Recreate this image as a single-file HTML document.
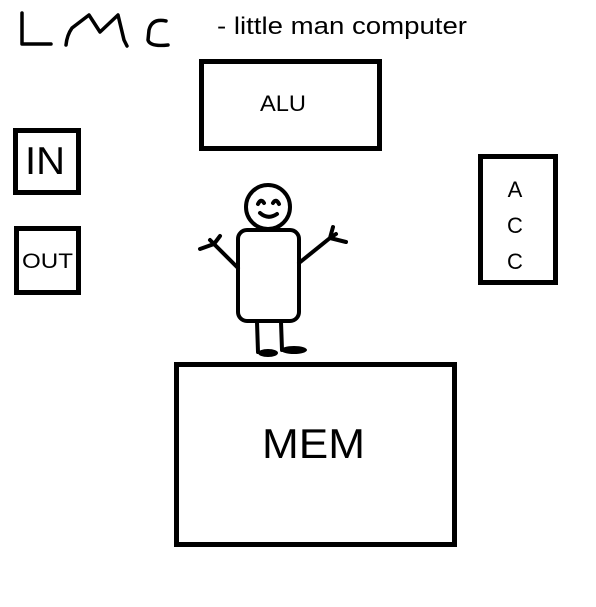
<!DOCTYPE html>
<html><head><style>
html,body{margin:0;padding:0;background:#fff;width:596px;height:607px;overflow:hidden}
svg text{font-family:"Liberation Sans",sans-serif;fill:#000}
</style></head><body>
<svg width="596" height="607" viewBox="0 0 596 607" xmlns="http://www.w3.org/2000/svg">
<g fill="none" stroke="#000" stroke-width="3.5" stroke-linecap="round" stroke-linejoin="round">
<path d="M22 13 L22 44 L51 44"/>
<path d="M66 45 Q67 35 72 28 L89 15 L100 32 L118 15 L124 40 L127 46"/>
<path d="M166 21 Q152 18 149 30 L148 40 Q150 47 168 45"/>
</g>
<text x="217" y="34" font-size="24" textLength="250" lengthAdjust="spacingAndGlyphs">- little man computer</text>
<g fill="none" stroke="#000" stroke-width="5">
<rect x="201.5" y="61.5" width="178" height="87"/>
<rect x="15.5" y="130.5" width="63" height="62"/>
<rect x="16.5" y="228.5" width="62" height="64"/>
<rect x="480.5" y="156.5" width="75" height="126"/>
<rect x="176.5" y="364.5" width="278" height="180"/>
</g>
<text x="260" y="111" font-size="22" textLength="46" lengthAdjust="spacingAndGlyphs">ALU</text>
<text x="25" y="174" font-size="39" textLength="40" lengthAdjust="spacingAndGlyphs">IN</text>
<text x="22" y="268" font-size="21" textLength="51" lengthAdjust="spacingAndGlyphs">OUT</text>
<text x="515" y="197" font-size="22" text-anchor="middle">A</text>
<text x="515" y="233" font-size="22" text-anchor="middle">C</text>
<text x="515" y="269" font-size="22" text-anchor="middle">C</text>
<text x="262" y="458" font-size="42" textLength="103" lengthAdjust="spacingAndGlyphs">MEM</text>
<g fill="none" stroke="#000" stroke-width="4" stroke-linecap="round" stroke-linejoin="round">
<circle cx="268" cy="207" r="22"/>
<path d="M258 204 Q261 198 264 203 M273 203 Q276 198 279 204"/>
<path d="M260 213 Q268 220 277 214"/>
<rect x="238" y="230" width="61" height="91" rx="9"/>
<path d="M238 268 L214 244 M200 249 L214 244 L220 236 M214 244 L210 240"/>
<path d="M299 263 L330 238 M330 238 L333 227 M330 238 L346 242 M330 238 L336 234"/>
<path d="M257 322 L258 352 M281 322 L282 350"/>
</g>
<ellipse cx="268" cy="353" rx="10" ry="4"/>
<ellipse cx="294" cy="350" rx="13" ry="4"/>
</svg>
</body></html>
